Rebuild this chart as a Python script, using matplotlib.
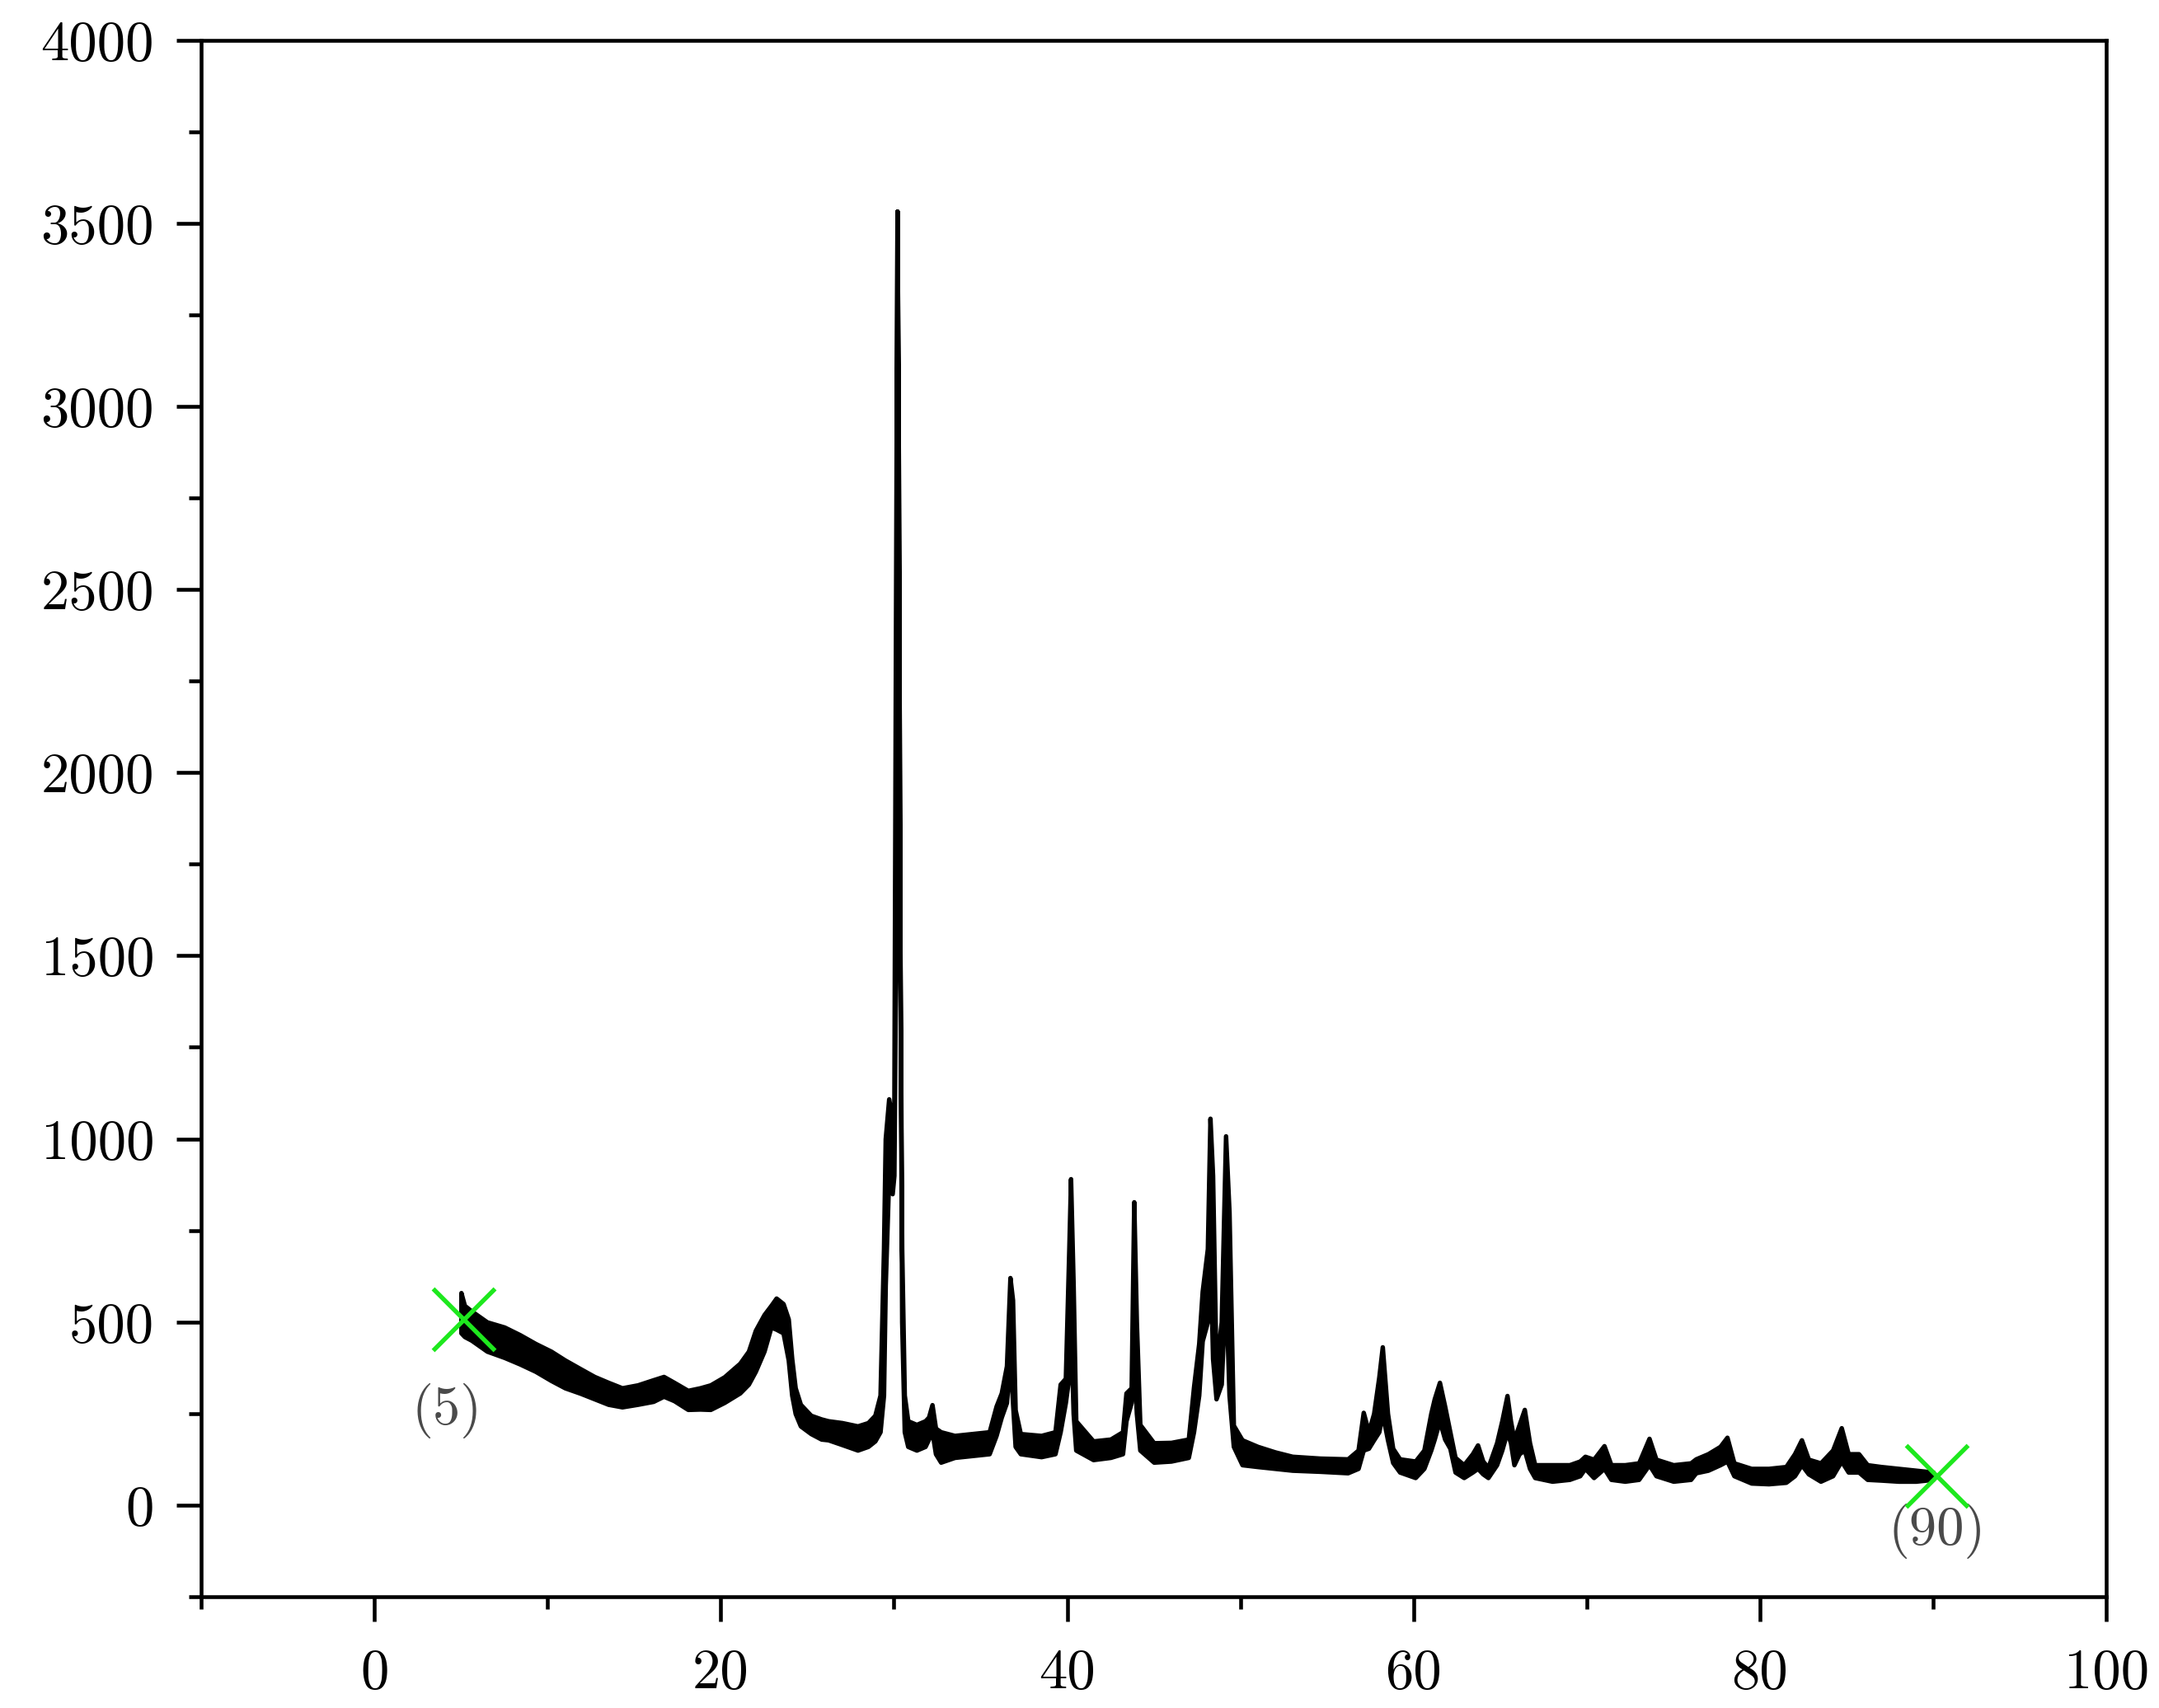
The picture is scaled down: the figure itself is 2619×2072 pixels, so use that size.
import numpy as np
import matplotlib
matplotlib.use('Agg')
import matplotlib.pyplot as plt
from matplotlib.ticker import MultipleLocator

# diffraction band: 2theta, lower and upper edge of the trace
two_theta = [5.0, 5.2, 5.6, 6.5, 7.5, 8.4, 9.3, 10.2, 11.0, 11.9, 12.7, 13.5, 14.3, 15.2,
             16.1, 16.7, 17.3, 18.1, 18.8, 19.4, 20.2, 21.1, 21.6, 22.0, 22.5, 22.9, 23.2,
             23.6, 23.9, 24.1, 24.3, 24.6, 25.2, 25.8, 26.2, 27.0, 27.9, 28.5, 28.9, 29.2,
             29.4, 29.5, 29.7, 29.9, 30.0, 30.1, 30.18, 30.25, 30.35, 30.45, 30.6, 30.8,
             31.3, 31.8, 32.0, 32.2, 32.4, 32.7, 33.5, 34.5, 35.5, 35.9, 36.2, 36.5, 36.7,
             36.85, 37.0, 37.3, 38.5, 39.3, 39.6, 39.9, 40.1, 40.2, 40.35, 40.5, 41.5, 42.5,
             43.2, 43.4, 43.7, 43.85, 44.0, 44.2, 45.0, 46.0, 47.0, 47.3, 47.6, 47.8, 48.1,
             48.25, 48.4, 48.6, 48.9, 49.15, 49.35, 49.6, 50.1, 51.0, 52.0, 53.0, 54.6, 56.2,
             56.8, 57.1, 57.4, 57.7, 58.0, 58.2, 58.5, 58.8, 59.2, 60.1, 60.6, 61.0, 61.2,
             61.5, 61.8, 62.1, 62.4, 62.9, 63.4, 63.7, 64.0, 64.3, 64.8, 65.1, 65.4, 65.6,
             65.8, 66.1, 66.4, 66.7, 67.0, 68.0, 69.0, 69.6, 69.9, 70.4, 71.0, 71.4, 72.2,
             73.0, 73.6, 74.0, 75.0, 76.0, 76.3, 77.0, 77.7, 78.1, 78.5, 79.5, 80.5, 81.5,
             82.0, 82.4, 82.8, 83.5, 84.2, 84.7, 85.1, 85.7, 86.2, 87.0, 88.0, 89.0, 90.0]
i_low = [470, 460, 450, 420, 403, 385, 365, 340, 320, 305, 290, 275, 268, 275,
         283, 297, 285, 261, 262, 261, 280, 306, 330, 365, 420, 486, 480,
         470, 396, 300, 250, 216, 195, 180, 178, 165, 150, 160, 175, 200,
         300, 600, 900, 850, 900, 1500, 3533, 2950, 1500, 500, 200, 160,
         150, 160, 180, 200, 140, 117, 130, 135, 140, 190, 240, 280, 400,
         280, 160, 140, 132, 140, 200, 280, 350, 500, 250, 150, 124, 130,
         140, 230, 280, 400, 250, 150, 117, 120, 130, 200, 300, 448, 500,
         700, 400, 290, 330, 600, 300, 160, 110, 105, 100, 95, 92, 88,
         100, 150, 155, 178, 200, 250, 178, 116, 90, 75, 100, 150, 180,
         230, 180, 155, 90, 75, 90, 100, 85, 75, 110, 150, 200, 170,
         110, 140, 150, 100, 75, 65, 70, 80, 100, 75, 100, 70, 65,
         70, 110, 80, 65, 70, 88, 95, 110, 120, 80, 60, 58, 62,
         80, 110, 85, 65, 80, 120, 90, 90, 70, 68, 65, 65, 70]
i_high = [580, 545, 530, 500, 486, 465, 441, 420, 396, 372, 351, 335, 320, 328,
          342, 351, 335, 313, 320, 328, 350, 387, 420, 477, 520, 545, 565,
          550, 508, 400, 320, 275, 245, 235, 230, 225, 216, 225, 245, 300,
          700, 1000, 1109, 1050, 1100, 2500, 3533, 2950, 1500, 700, 300, 230,
          220, 230, 240, 274, 210, 200, 190, 195, 200, 270, 306, 380, 621,
          560, 260, 195, 190, 200, 330, 346, 700, 891, 600, 230, 175, 180,
          200, 306, 320, 828, 500, 220, 170, 171, 180, 322, 441, 583, 700,
          1056, 900, 369, 500, 1008, 800, 218, 178, 160, 145, 133, 128, 126,
          150, 253, 200, 250, 350, 432, 250, 155, 126, 120, 150, 250, 290,
          335, 270, 200, 130, 110, 140, 164, 120, 103, 170, 230, 299, 230,
          178, 220, 261, 170, 110, 110, 110, 120, 133, 125, 162, 110, 110,
          115, 182, 125, 110, 115, 126, 140, 160, 185, 115, 100, 100, 105,
          140, 178, 125, 115, 150, 211, 140, 140, 110, 105, 100, 95, 90]

# green range markers and their labels
marker_x = [5.15, 90.2]
marker_y = [509, 81]
marker_labels = ['(5)', '(90)']
label_x = [4.2, 90.2]
label_y = [258, -72]

x_ticks = [0, 20, 40, 60, 80, 100]
x_ticklabels = ['0', '20', '40', '60', '80', '100']
y_ticks = [0, 500, 1000, 1500, 2000, 2500, 3000, 3500, 4000]
y_ticklabels = ['0', '500', '1000', '1500', '2000', '2500', '3000', '3500', '4000']

fig = plt.figure(figsize=(2619 / 300, 2072 / 300), dpi=300)
ax = fig.add_axes([0.0932, 0.0652, 0.9756 - 0.0932, 0.9765 - 0.0652])

# thick noisy trace drawn as a filled band, outline keeps the narrow peaks visible
ax.fill_between(two_theta, i_low, i_high, facecolor='black', edgecolor='black', linewidth=1.3)

ax.plot(marker_x, marker_y, linestyle='none', marker='x', markersize=18,
        markeredgewidth=1.3, color='#1ee81e', zorder=5)
for lx, ly, txt in zip(label_x, label_y, marker_labels):
    ax.text(lx, ly, txt, ha='center', va='center', fontsize=16, family='cmr10', color='#4a4a4a')

ax.set_xlim(-10, 100)
ax.set_ylim(-250, 4000)

ax.set_xticks(x_ticks)
ax.set_xticklabels(x_ticklabels, family='cmr10', fontsize=16.5)
ax.xaxis.set_minor_locator(MultipleLocator(10))
ax.set_yticks(y_ticks)
ax.set_yticklabels(y_ticklabels, family='cmr10', fontsize=16.5)
ax.yaxis.set_minor_locator(MultipleLocator(250))

ax.tick_params(which='major', direction='out', length=7.2, width=1.1, pad=6.5)
ax.tick_params(axis='x', which='major', pad=8)
ax.tick_params(which='minor', direction='out', length=3.6, width=1.1)
for side in ['left', 'right', 'top', 'bottom']:
    ax.spines[side].set_linewidth(1.1)

fig.savefig('out.png', dpi=300)
